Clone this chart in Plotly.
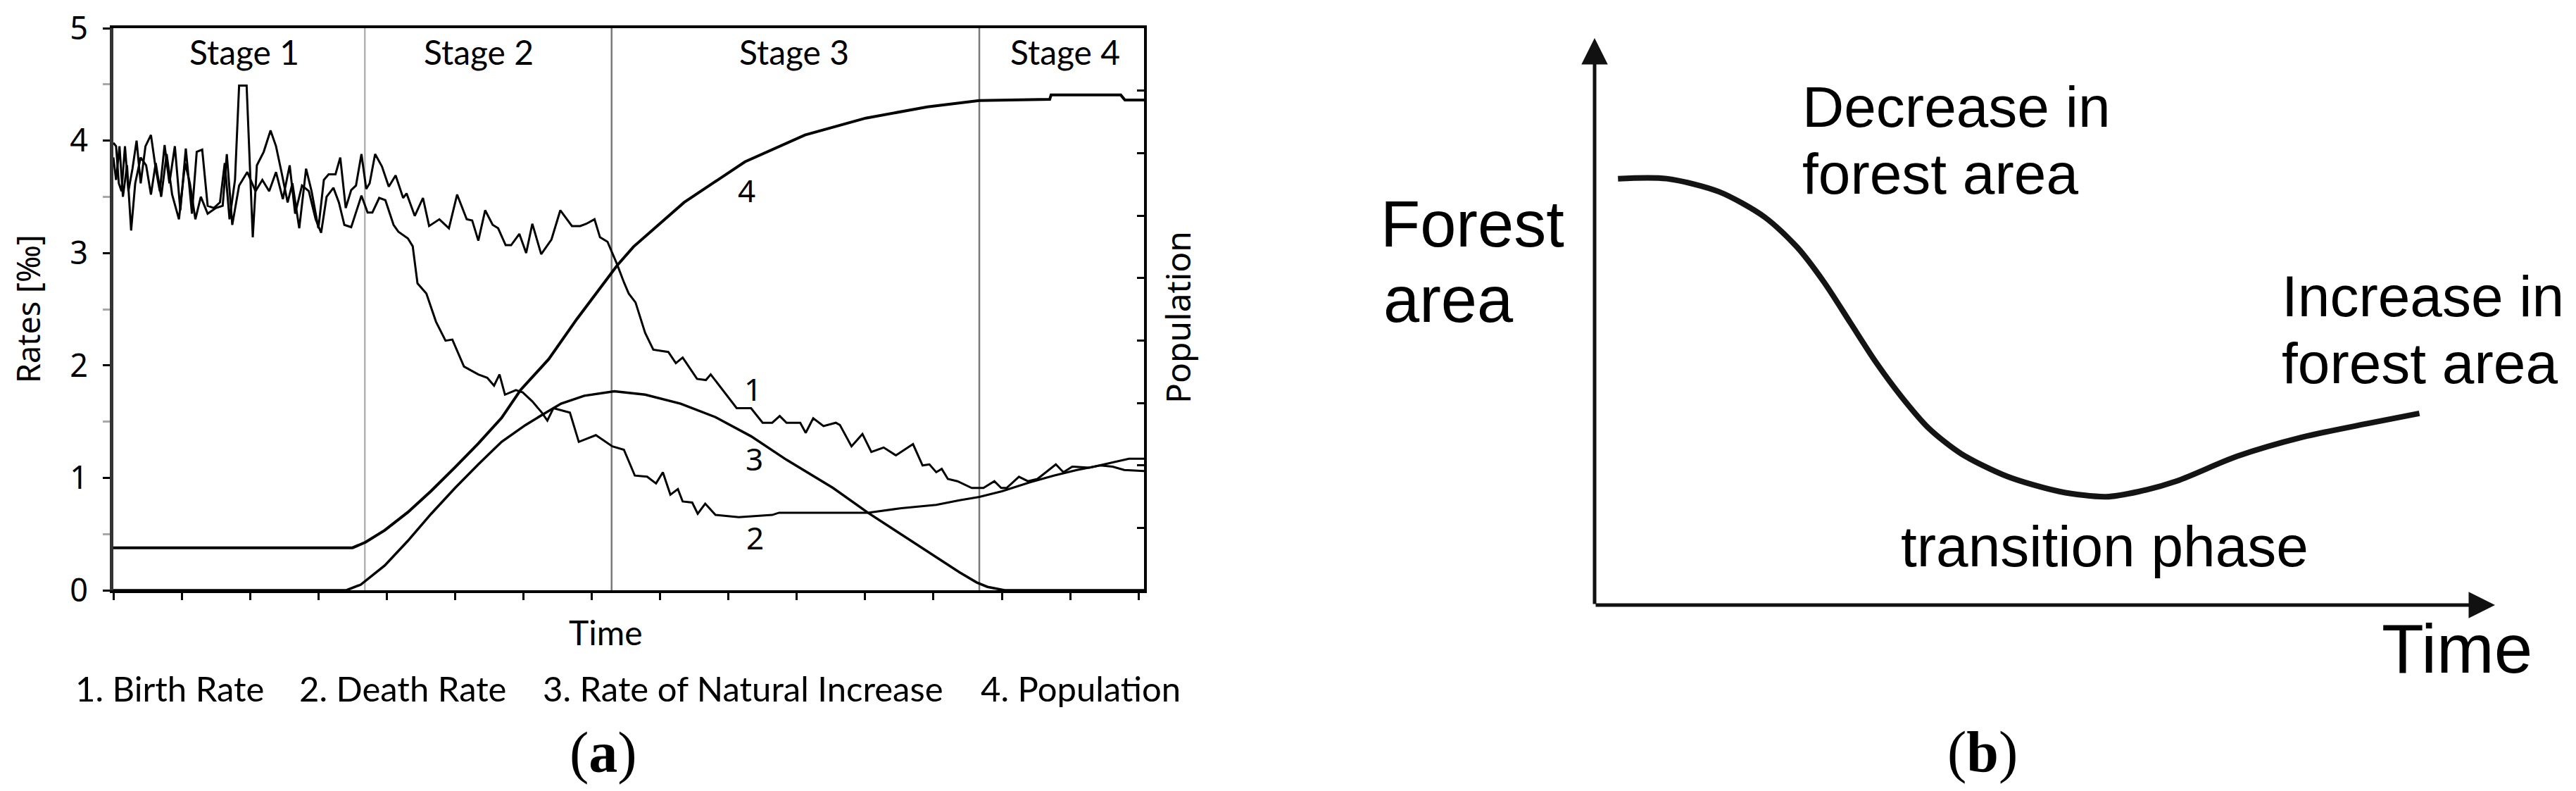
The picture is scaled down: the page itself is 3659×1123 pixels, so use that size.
import plotly.graph_objects as go

W, H = 3659, 1123

# ---- panel (a): demographic transition ----
stage_names = ["Stage 1", "Stage 2", "Stage 3", "Stage 4"]
stage_bounds = [3.68, 7.29, 12.67]

birth_t = [0.0, 0.04, 0.08, 0.12, 0.17, 0.22, 0.28, 0.34, 0.40, 0.47,
           0.55, 0.62, 0.68, 0.75, 0.82, 0.90, 0.98, 1.06, 1.15, 1.22,
           1.30, 1.38, 1.47, 1.56, 1.63, 1.70, 1.78, 1.84, 1.95, 2.04,
           2.10, 2.20, 2.30, 2.38, 2.46, 2.55, 2.62, 2.72, 2.82, 2.90,
           3.00, 3.08, 3.15, 3.25, 3.32, 3.40,
           3.48, 3.55, 3.63, 3.70, 3.75, 3.83, 3.93, 4.03, 4.13, 4.24,
           4.29, 4.41, 4.53, 4.62, 4.77, 4.91, 5.03, 5.17, 5.25, 5.34,
           5.44, 5.55, 5.63, 5.74, 5.82, 5.94, 6.04, 6.13, 6.26, 6.41,
           6.54, 6.71, 6.83, 6.92, 7.04, 7.12, 7.23, 7.37, 7.47, 7.54,
           7.64, 7.78, 7.90, 8.12, 8.23, 8.33, 8.54, 8.67, 8.74, 9.12,
           9.33, 9.50, 9.64, 9.75, 9.85, 10.05, 10.13, 10.24, 10.39, 10.57,
           10.63, 10.80, 10.96, 11.09, 11.27,
           11.45, 11.70, 11.84, 11.94, 12.04, 12.12, 12.21, 12.35, 12.56, 12.73,
           12.89, 12.99, 13.07, 13.25, 13.38, 13.52, 13.79, 13.90, 14.03, 14.28,
           14.65, 14.86, 15.08]
birth_rate = [3.98, 3.95, 3.62, 3.55, 3.95, 3.55, 3.75, 4.00, 3.62, 3.95,
              4.05, 3.75, 3.55, 3.96, 3.62, 3.95, 3.38, 3.93, 3.35, 3.90,
              3.92, 3.42, 3.40, 3.45, 3.80, 3.30, 3.65, 4.49, 4.49, 3.14,
              3.78, 3.90, 4.09, 3.95, 3.72, 3.45, 3.62, 3.22, 3.75, 3.55,
              3.22, 3.65, 3.70, 3.70, 3.85, 3.40,
              3.56, 3.60, 3.88, 3.57, 3.62, 3.88, 3.77, 3.59, 3.69, 3.49,
              3.53, 3.33, 3.49, 3.24, 3.30, 3.22, 3.52, 3.30, 3.29, 3.11,
              3.38, 3.25, 3.22, 3.07, 3.07, 3.17, 3.00, 3.26, 2.99, 3.12,
              3.38, 3.24, 3.24, 3.26, 3.30, 3.14, 3.10, 2.90, 2.74, 2.64,
              2.56, 2.29, 2.14, 2.12, 2.02, 2.07, 1.88, 1.87, 1.92, 1.62,
              1.62, 1.49, 1.49, 1.55, 1.49, 1.49, 1.40, 1.53, 1.46, 1.49,
              1.47, 1.28, 1.39, 1.23, 1.27,
              1.20, 1.30, 1.11, 1.12, 1.05, 1.08, 0.99, 0.97, 0.91, 0.91,
              0.97, 0.91, 0.91, 1.01, 0.97, 0.99, 1.12, 1.05, 1.10, 1.09,
              1.14, 1.17, 1.17]

death_t = [0.0, 0.04, 0.09, 0.14, 0.20, 0.26, 0.32, 0.40, 0.48, 0.55,
           0.62, 0.70, 0.78, 0.86, 0.96, 1.05, 1.12, 1.20, 1.28, 1.38,
           1.50, 1.60, 1.66, 1.74, 1.84, 1.96, 2.08, 2.18, 2.28, 2.38,
           2.48, 2.58, 2.66, 2.76, 2.86, 2.96, 3.04, 3.12, 3.22, 3.30,
           3.38,
           3.48, 3.63, 3.72, 3.79, 3.89, 3.98, 4.10, 4.17, 4.31, 4.38,
           4.45, 4.58, 4.72, 4.86, 4.96, 5.13, 5.34, 5.47, 5.57, 5.65,
           5.73, 5.89, 5.99, 6.13, 6.27, 6.35, 6.44, 6.68, 6.81, 7.06,
           7.30, 7.47, 7.63, 7.81, 7.94, 8.04, 8.15, 8.26, 8.33, 8.47,
           8.55, 8.66, 8.81, 9.15, 9.64, 9.74, 11.04, 11.53, 12.04, 12.38,
           12.67, 13.00, 13.41, 13.76, 14.10, 14.44, 14.62, 14.79, 15.08]
death_rate = [3.85, 3.65, 3.95, 3.50, 3.78, 3.20, 3.62, 3.85, 3.78, 3.52,
              3.80, 3.50, 3.88, 3.52, 3.30, 3.80, 3.62, 3.30, 3.50, 3.35,
              3.40, 3.42, 3.88, 3.25, 3.60, 3.72, 3.55, 3.65, 3.55, 3.72,
              3.48, 3.78, 3.35, 3.60, 3.55, 3.30, 3.18, 3.50, 3.58, 3.45,
              3.25,
              3.23, 3.51, 3.36, 3.36, 3.49, 3.47, 3.25, 3.19, 3.13, 3.06,
              2.73, 2.64, 2.39, 2.22, 2.23, 1.99, 1.92, 1.89, 1.82, 1.92,
              1.74, 1.78, 1.76, 1.68, 1.58, 1.51, 1.62, 1.58, 1.32, 1.38,
              1.28, 1.25, 1.02, 1.01, 0.95, 1.05, 0.85, 0.90, 0.79, 0.78,
              0.68, 0.77, 0.67, 0.65, 0.67, 0.69, 0.69, 0.73, 0.76, 0.80,
              0.83, 0.88, 0.96, 1.02, 1.07, 1.11, 1.10, 1.07, 1.06]

natural_t = [0, 3.41, 3.62, 3.97, 4.31, 4.65, 5.0, 5.34, 5.68, 6.03, 6.30, 6.55, 6.89,
             7.33, 7.78, 8.30, 8.81, 9.33, 9.85, 10.53, 11.04, 11.70, 12.38, 12.63,
             12.79, 13.04, 15.08]
natural_rate = [0, 0, 0.05, 0.22, 0.44, 0.68, 0.91, 1.12, 1.32, 1.47, 1.57, 1.66, 1.73,
                1.77, 1.74, 1.66, 1.54, 1.37, 1.16, 0.91, 0.69, 0.43, 0.16, 0.07,
                0.03, 0.0, 0.0]

pop_t = [0, 3.5, 3.69, 3.97, 4.31, 4.65, 5.0, 5.34, 5.68, 5.96, 6.37, 6.78, 7.37,
         7.61, 8.35, 9.24, 10.12, 11.01, 11.91, 12.67, 13.70, 13.72, 14.74, 14.80, 15.08]
population = [0.68, 0.68, 0.77, 0.96, 1.25, 1.59, 1.97, 2.35, 2.76, 3.21, 3.70, 4.34, 5.20,
              5.50, 6.21, 6.86, 7.29, 7.56, 7.74, 7.84, 7.86, 7.93, 7.93, 7.85, 7.85]

curve_labels = ["1", "2", "3", "4"]
label_t = [9.36, 9.39, 9.38, 9.27]
label_y = [1.79, 0.47, 1.17, 3.56]

legend_items = ["1. Birth Rate", "2. Death Rate", "3. Rate of Natural Increase", "4. Population"]

# ---- panel (b): forest transition ----
forest_t = [0.26, 0.80, 1.38, 1.89, 2.25, 2.55, 2.84, 3.13, 3.42, 3.71, 4.07, 4.58,
            5.17, 5.68, 6.04, 6.47, 7.13, 7.86, 8.58, 9.16]
forest_area = [7.52, 7.52, 7.29, 6.84, 6.31, 5.69, 4.98, 4.27, 3.65, 3.12, 2.67, 2.27,
               2.00, 1.91, 2.00, 2.19, 2.62, 2.96, 3.20, 3.38]


def fx(px):
    return px / W


def fy(py):
    return 1 - py / H


CAL = "Lato, Carlito, sans-serif"
TAH = "Noto Sans, DejaVu Sans, sans-serif"
ARI = "Liberation Sans, Arial, sans-serif"
SER = "Liberation Serif, Times New Roman, serif"

fig = go.Figure()
line = dict(color="black", width=3)
fig.add_trace(go.Scatter(x=birth_t, y=birth_rate, mode="lines", line=line))
fig.add_trace(go.Scatter(x=death_t, y=death_rate, mode="lines", line=line))
fig.add_trace(go.Scatter(x=natural_t, y=natural_rate, mode="lines", line=dict(color="black", width=3.5)))
fig.add_trace(go.Scatter(x=pop_t, y=population, mode="lines", yaxis="y2",
                         line=dict(color="black", width=4)))
fig.add_trace(go.Scatter(x=forest_t, y=forest_area, mode="lines", xaxis="x2", yaxis="y3",
                         line=dict(color="#141414", width=8, shape="spline", smoothing=0.8)))

# stage dividers
for i, b in enumerate(stage_bounds):
    fig.add_shape(type="line", xref="x", yref="y", x0=b, x1=b, y0=0, y1=5,
                  line=dict(color="#b4b4b4" if i == 0 else "#7a7a7a", width=2.5), layer="below")

ann = []
stage_px = [347, 680, 1128, 1513]
for name, cx in zip(stage_names, stage_px):
    ann.append(dict(text=name, x=fx(cx), y=fy(74), xref="paper", yref="paper",
                    font=dict(family=CAL, size=48)))
for lab, lx, ly in zip(curve_labels, label_t, label_y):
    ann.append(dict(text=lab, x=lx, y=ly, xref="x", yref="y", font=dict(family=TAH, size=44)))
ann.append(dict(text="Rates [‰]", x=fx(39), y=fy(439), xref="paper", yref="paper",
                textangle=-90, font=dict(family=TAH, size=45)))
ann.append(dict(text="Population", x=fx(1673), y=fy(451), xref="paper", yref="paper",
                textangle=-90, font=dict(family=TAH, size=48)))
ann.append(dict(text="Time", x=fx(860), y=fy(897), xref="paper", yref="paper",
                font=dict(family=CAL, size=48)))
for item, cx in zip(legend_items, [241, 572, 1055, 1535]):
    ann.append(dict(text=item, x=fx(cx), y=fy(977), xref="paper", yref="paper",
                    font=dict(family=CAL, size=49)))
ann.append(dict(text="(<b>a</b>)", x=fx(857), y=fy(1068), xref="paper", yref="paper",
                font=dict(family=SER, size=82)))

# panel (b) texts
ann.append(dict(text="Forest", x=fx(2224), y=fy(318), xanchor="right", xref="paper", yref="paper",
                font=dict(family=ARI, size=92)))
ann.append(dict(text="area", x=fx(1963), y=fy(425), xanchor="left", xref="paper", yref="paper",
                font=dict(family=ARI, size=92)))
for txt, lx, ly in [("Decrease in", 2558, 152), ("forest area", 2558, 246),
                    ("Increase in", 3239, 421), ("forest area", 3239, 515),
                    ("transition phase", 2698, 775)]:
    ann.append(dict(text=txt, x=fx(lx), y=fy(ly), xanchor="left", xref="paper", yref="paper",
                    font=dict(family=ARI, size=82)))
ann.append(dict(text="Time", x=fx(3490), y=fy(921), xref="paper", yref="paper",
                font=dict(family=ARI, size=98)))
ann.append(dict(text="(<b>b</b>)", x=fx(2816), y=fy(1067), xref="paper", yref="paper",
                font=dict(family=SER, size=82)))

for a in ann:
    a["showarrow"] = False
    a.setdefault("xanchor", "center")
    a.setdefault("yanchor", "middle")
    a["font"].setdefault("color", "black")

# arrows of panel (b) axes
for hx, hy in [(10, 0), (0, 10)]:
    ann.append(dict(text="", x=hx, y=hy, ax=0, ay=0, xref="x2", yref="y3", axref="x2", ayref="y3",
                    showarrow=True, arrowhead=2, arrowsize=1.5, arrowwidth=5, arrowcolor="#111",
                    standoff=0, startstandoff=0))

fig.update_layout(
    width=W, height=H,
    margin=dict(l=0, r=0, t=0, b=0, pad=0, autoexpand=False),
    paper_bgcolor="white", plot_bgcolor="white",
    showlegend=False,
    annotations=ann,
    xaxis=dict(domain=[fx(161), fx(1625)], range=[0, 15.08], anchor="y", automargin=False,
               showline=True, linewidth=4, linecolor="black", mirror=True,
               ticks="outside", ticklen=10, tickwidth=3, tickcolor="black",
               tick0=0, dtick=1, showticklabels=False, showgrid=False, zeroline=False),
    yaxis=dict(domain=[fy(838), fy(40)], range=[0, 5], anchor="x", automargin=False,
               showline=True, linewidth=5, linecolor="#333",
               ticks="outside", ticklen=10, tickwidth=3, tickcolor="black", dtick=1,
               tickfont=dict(family=TAH, size=45, color="black"), ticklabelstandoff=12,
               minor=dict(dtick=0.5, ticks="outside", ticklen=10, tickwidth=3, tickcolor="#a8a8a8"),
               showgrid=False, zeroline=False),
    yaxis2=dict(overlaying="y", side="right", anchor="x", range=[0, 9], automargin=False,
                showline=True, linewidth=4, linecolor="black",
                ticks="inside", ticklen=10, tickwidth=3, tickcolor="black", dtick=1,
                showticklabels=False, showgrid=False, zeroline=False),
    xaxis2=dict(domain=[fx(2265), fx(3544)], range=[0, 10], anchor="y3", visible=False,
                automargin=False),
    yaxis3=dict(domain=[fy(859), fy(54)], range=[0, 10], anchor="x2", visible=False,
                automargin=False),
)

# drop the default page margin so the figure sits at the window's top-left corner
fig.write_html("out.html", config={"displayModeBar": False},
               post_script="document.body.style.margin='0';")
